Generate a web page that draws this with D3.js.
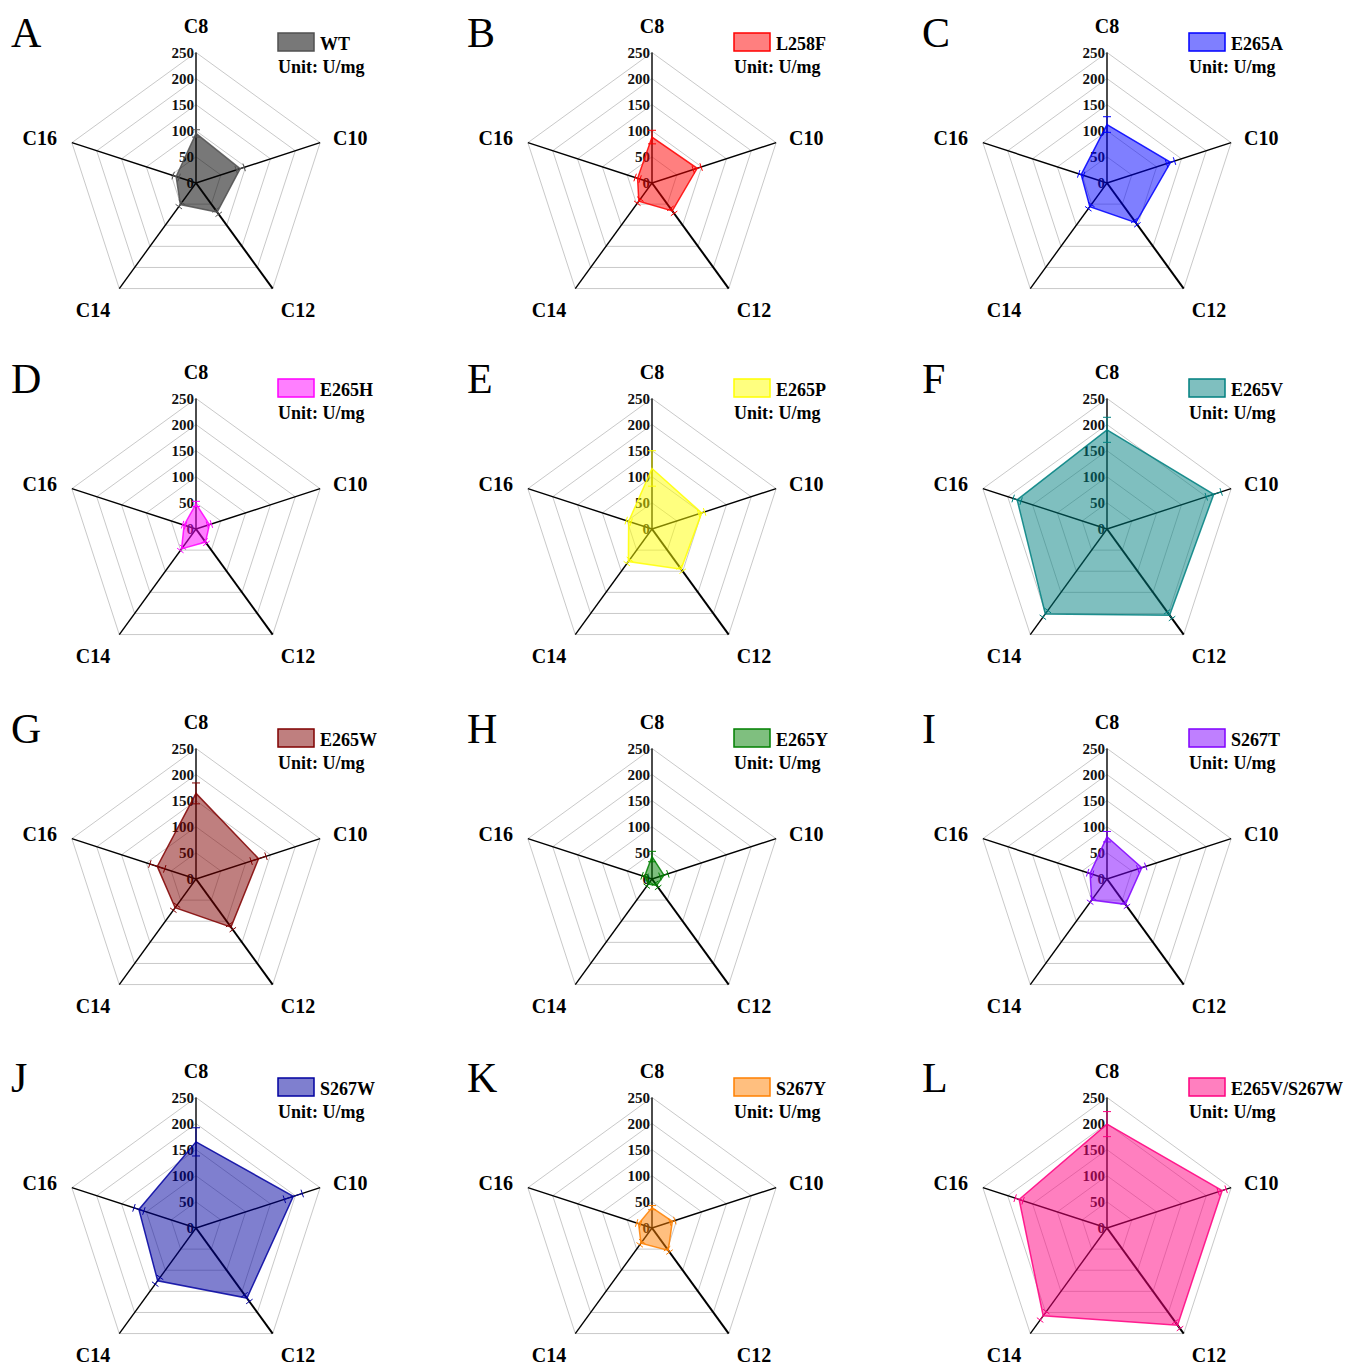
<!DOCTYPE html>
<html>
<head>
<meta charset="utf-8">
<script src="https://cdn.jsdelivr.net/npm/d3@7"></script>
<style>
  html, body { margin: 0; padding: 0; background: #fff; }
  svg { display: block; }
  text { font-family: "Liberation Serif", "Times New Roman", serif; }
</style>
</head>
<body>
<svg id="chart" width="1350" height="1368"></svg>
<script>
// Substrate chain lengths (radar axes)
const substrates = ["C8", "C10", "C12", "C14", "C16"];

// Radial axis ticks (U/mg)
const tickValues = [0, 50, 100, 150, 200, 250];

// Panel letters and enzyme variants
const panelLetters = ["A", "B", "C", "D", "E", "F", "G", "H", "I", "J", "K", "L"];
const variants = ["WT", "L258F", "E265A", "E265H", "E265P", "E265V",
                  "E265W", "E265Y", "S267T", "S267W", "S267Y", "E265V/S267W"];
const variantColors = ["#0a0a0a", "#ff0000", "#0000ff", "#ff00ff", "#ffff00", "#008080",
                       "#800000", "#008000", "#8000ff", "#0000a0", "#ff8000", "#ff0080"];

// Specific activity per variant, in substrate order C8, C10, C12, C14, C16
const actWT        = [95, 89, 69, 51, 40];
const actL258F     = [88, 91, 66, 43, 29];
const actE265A     = [112, 128, 94, 56, 52];
const actE265H     = [48, 27, 31, 47, 24];
const actE265P     = [116, 100, 95, 77, 47];
const actE265V     = [190, 215, 204, 201, 181];
const actE265W     = [164, 126, 114, 68, 78];
const actE265Y     = [43, 24, 15, 12, 15];
const actS267T     = [81, 70, 60, 50, 34];
const actS267W     = [165, 196, 166, 125, 115];
const actS267Y     = [39, 41, 53, 36, 27];
const actE265VS267W = [199, 232, 230, 208, 177];

// Standard deviations, same order
const sdWT        = [7, 8, 5, 5, 6];
const sdL258F     = [13, 8, 6, 5, 5];
const sdE265A     = [15, 8, 5, 5, 5];
const sdE265H     = [5, 4, 3, 4, 3];
const sdE265P     = [34, 6, 5, 5, 5];
const sdE265V     = [24, 15, 8, 8, 8];
const sdE265W     = [20, 15, 6, 6, 15];
const sdE265Y     = [10, 8, 5, 5, 5];
const sdS267T     = [10, 8, 5, 5, 5];
const sdS267W     = [27, 18, 8, 8, 10];
const sdS267Y     = [4, 5, 4, 4, 4];
const sdE265VS267W = [24, 8, 8, 10, 8];

const activities = [actWT, actL258F, actE265A, actE265H, actE265P, actE265V,
                    actE265W, actE265Y, actS267T, actS267W, actS267Y, actE265VS267W];
const deviations = [sdWT, sdL258F, sdE265A, sdE265H, sdE265P, sdE265V,
                    sdE265W, sdE265Y, sdS267T, sdS267W, sdS267Y, sdE265VS267W];

// ---- layout ----
const colX = [196, 652, 1107];
const rowY = [183, 529, 879, 1228];
const R = 130.5;

const svg = d3.select("#chart");
const rScale = d3.scaleLinear().domain([0, 250]).range([0, R]);
const angle = d3.scalePoint().domain(substrates).range([0, 2 * Math.PI * 4 / 5]);

// position on the radar for a substrate and value (angle clockwise from 12 o'clock)
function pt(sub, v) {
  const a = angle(sub) - Math.PI / 2;
  return [rScale(v) * Math.cos(a), rScale(v) * Math.sin(a)];
}

const radarLine = d3.lineRadial()
  .angle((d, i) => angle(substrates[i]))
  .radius(d => rScale(d))
  .curve(d3.curveLinearClosed);

variants.forEach((name, k) => {
  const cx = colX[k % 3], cy = rowY[Math.floor(k / 3)];
  const color = variantColors[k];
  const fillOpacity = k === 0 ? 0.55 : 0.5;
  const strokeColor = k === 0 ? "#505050" : color;
  const g = svg.append("g").attr("transform", `translate(${cx},${cy})`);

  // grid pentagons
  tickValues.filter(t => t > 0).forEach(t => {
    g.append("path")
      .attr("d", radarLine(substrates.map(() => t)))
      .attr("fill", "none")
      .attr("stroke", "#c9c9c9")
      .attr("stroke-width", 1);
  });

  // spokes
  substrates.forEach(s => {
    const [x, y] = pt(s, 250);
    g.append("line")
      .attr("x1", 0).attr("y1", 0).attr("x2", x).attr("y2", y)
      .attr("stroke", "#000")
      .attr("stroke-width", s === "C12" ? 2 : 1.4);
  });

  // radial tick labels along C8 axis
  tickValues.forEach(t => {
    g.append("text")
      .attr("x", -2)
      .attr("y", -rScale(t))
      .attr("dy", "0.35em")
      .attr("text-anchor", "end")
      .attr("font-size", 15)
      .attr("font-weight", "bold")
      .attr("fill", "#111")
      .text(t);
  });

  // axis labels
  const labelPos = {
    C8:  [0, -150, "middle"],
    C10: [137, -38, "start"],
    C12: [102, 134, "middle"],
    C14: [-103, 134, "middle"],
    C16: [-139, -38, "end"]
  };
  substrates.forEach(s => {
    const [lx, ly, anchor] = labelPos[s];
    g.append("text")
      .attr("x", lx).attr("y", ly)
      .attr("text-anchor", anchor)
      .attr("font-size", 20)
      .attr("font-weight", "bold")
      .text(s);
  });

  // activity polygon
  const vals = activities[k];
  g.append("path")
    .attr("d", radarLine(vals))
    .attr("fill", color)
    .attr("fill-opacity", fillOpacity)
    .attr("stroke", strokeColor)
    .attr("stroke-opacity", 0.85)
    .attr("stroke-width", 1.5);

  // error bars
  const sds = deviations[k];
  substrates.forEach((s, i) => {
    const lo = Math.max(0, vals[i] - sds[i]), hi = vals[i] + sds[i];
    const [x1, y1] = pt(s, lo), [x2, y2] = pt(s, hi);
    g.append("line")
      .attr("x1", x1).attr("y1", y1).attr("x2", x2).attr("y2", y2)
      .attr("stroke", strokeColor).attr("stroke-width", 1);
    const a = angle(s) - Math.PI / 2;
    const px = -Math.sin(a) * 4, py = Math.cos(a) * 4;
    [[x1, y1], [x2, y2]].forEach(([x, y]) => {
      g.append("line")
        .attr("x1", x - px).attr("y1", y - py).attr("x2", x + px).attr("y2", y + py)
        .attr("stroke", strokeColor).attr("stroke-width", 1);
    });
  });

  // legend
  g.append("rect")
    .attr("x", 82).attr("y", -150).attr("width", 36).attr("height", 18)
    .attr("fill", color).attr("fill-opacity", fillOpacity)
    .attr("stroke", strokeColor).attr("stroke-width", 1.5);
  g.append("text")
    .attr("x", 124).attr("y", -133)
    .attr("font-size", 18).attr("font-weight", "bold")
    .text(name);
  g.append("text")
    .attr("x", 82).attr("y", -110)
    .attr("font-size", 18).attr("font-weight", "bold")
    .text("Unit: U/mg");

  // panel letter
  g.append("text")
    .attr("x", -185).attr("y", -136)
    .attr("font-size", 42)
    .text(panelLetters[k]);
});
</script>
</body>
</html>
